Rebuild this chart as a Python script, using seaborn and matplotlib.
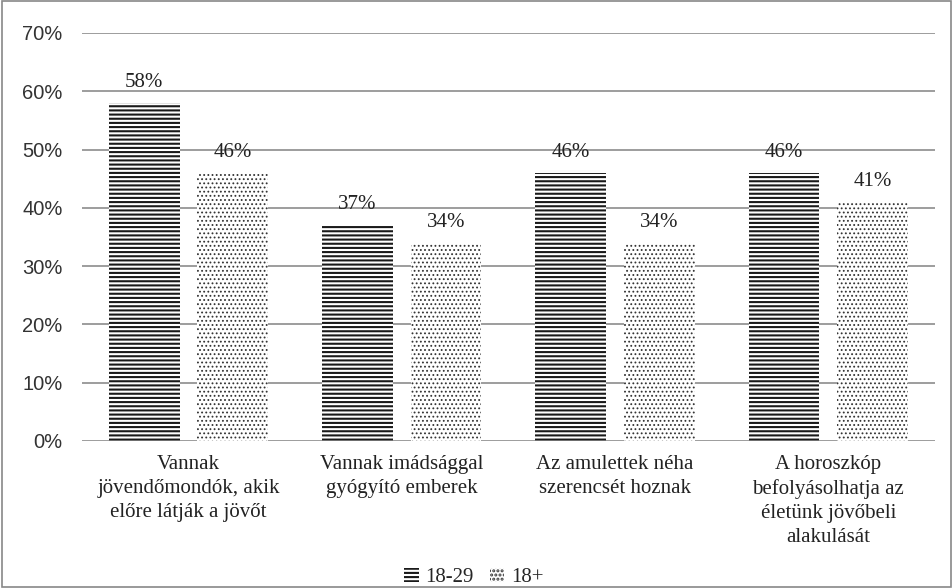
import matplotlib
matplotlib.use("Agg")
import matplotlib.pyplot as plt
import seaborn as sns
import pandas as pd
from matplotlib.patches import Rectangle

categories = [
    "Vannak\njövendőmondók, akik\nelőre látják a jövőt",
    "Vannak imádsággal\ngyógyító emberek",
    "Az amulettek néha\nszerencsét hoznak",
    "A horoszkóp\nbefolyásolhatja az\néletünk jövőbeli\nalakulását",
]
series = ["18-29", "18+"]
values_18_29 = [58, 37, 46, 46]
values_18plus = [46, 34, 34, 41]
yticks = [0, 10, 20, 30, 40, 50, 60, 70]

rows = []
for c, a, b in zip(categories, values_18_29, values_18plus):
    rows.append({"cat": c, "grp": series[0], "val": a})
    rows.append({"cat": c, "grp": series[1], "val": b})
df = pd.DataFrame(rows)

sns.set_theme(style="white")
plt.rcParams["hatch.linewidth"] = 1.5
serif = ["Liberation Serif", "DejaVu Serif"]
sans = ["Liberation Sans", "DejaVu Sans"]

fig = plt.figure(figsize=(9.53, 5.88), dpi=100)
ax = fig.add_axes([0.086, 0.25, 0.895, 0.694])

sns.barplot(data=df, x="cat", y="val", hue="grp", order=categories,
            hue_order=series, width=0.83, gap=0.2, ax=ax,
            palette=["white", "white"], legend=False, saturation=1)

hatches = {series[0]: "----", series[1]: "...."}
edgecols = {series[0]: "#1a1a1a", series[1]: "#333333"}


def style_patch(p, s):
    p.set_facecolor("white")
    p.set_edgecolor(edgecols[s])
    p.set_hatch(hatches[s])
    p.set_linewidth(0)
    if s == series[1] and hasattr(p, "set_hatch_linewidth"):
        p.set_hatch_linewidth(0.8)


for cont, s in zip(ax.containers, series):
    for p in cont:
        style_patch(p, s)
    ax.bar_label(cont, labels=[f"{int(v)}%" for v in cont.datavalues],
                 padding=8, fontsize=15, family=serif, color="#222222")

ax.set_ylim(0, 70)
ax.set_xlim(-0.5, 3.5)
ax.set_yticks(yticks)
ax.set_yticklabels([f"{t}%" for t in yticks], family=sans, fontsize=14.5, color="#333333")
ax.tick_params(axis="y", length=0, pad=14)
ax.tick_params(axis="x", length=0, pad=10)
ax.set_xticks(range(len(categories)))
ax.set_xticklabels(categories, family=serif, fontsize=15, color="#222222", linespacing=1.35)
ax.yaxis.grid(True, color="#8c8c8c", linewidth=1.2)
ax.set_axisbelow(True)
for sp in ax.spines.values():
    sp.set_visible(False)
ax.set_xlabel("")
ax.set_ylabel("")

handles = []
for s in series:
    h = Rectangle((0, 0), 1, 1)
    style_patch(h, s)
    handles.append(h)
fig.legend(handles, series, loc="center", bbox_to_anchor=(0.497, 0.018), ncol=2, frameon=False,
           prop={"family": serif, "size": 15}, handlelength=0.7, handleheight=0.7,
           handletextpad=0.3, columnspacing=0.8)

fig.add_artist(Rectangle((0.002, 0.002), 0.996, 0.996, transform=fig.transFigure,
                         fill=False, edgecolor="#888888", linewidth=1.2))

fig.savefig("out.png", dpi=100)
